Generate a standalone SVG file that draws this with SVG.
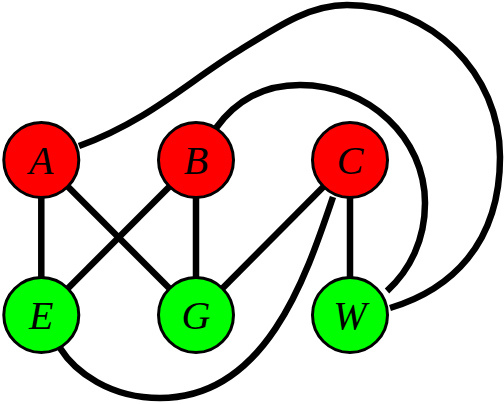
<svg xmlns="http://www.w3.org/2000/svg" width="504" height="404" viewBox="0 0 504 404">
<style>
.edge{fill:none;stroke:#000;stroke-width:6.5;stroke-linecap:butt}
.red{fill:#ff0000;stroke:#000;stroke-width:3}
.green{fill:#00ff00;stroke:#000;stroke-width:3}
.lbl{font-family:"Liberation Serif","DejaVu Serif",serif;font-style:italic;font-size:40px;text-anchor:middle;fill:#000}
</style>
<rect width="504" height="404" fill="#fff"/>
<g id="edges">
<line class="edge" x1="41.3" y1="160" x2="41.3" y2="315"/>
<line class="edge" x1="41.3" y1="160" x2="196" y2="315"/>
<line class="edge" x1="196" y1="160" x2="41.3" y2="315"/>
<line class="edge" x1="196" y1="160" x2="196" y2="315"/>
<line class="edge" x1="350" y1="160" x2="196" y2="315"/>
<line class="edge" x1="350" y1="160" x2="350" y2="315"/>
<path class="edge" d="M79,146 C150,120 190,80 240,50 C280,25 310,5 347,5 C431,5 500,73 500,157 C500,245 450,290 390,308"/>
<path class="edge" d="M216,128 C240,95 270,85 300,85 C369,85 425,138 425,203 C425,240 410,270 387,291"/>
<path class="edge" d="M333,197 C305,280 265,398 160,398 C110,398 75,372 60,348"/>
</g>
<g id="A"><circle class="red" cx="41.3" cy="160" r="37.5"/><text class="lbl" x="41.3" y="173.5">A</text></g>
<g id="B"><circle class="red" cx="196" cy="160" r="37.5"/><text class="lbl" x="196" y="173.5">B</text></g>
<g id="C"><circle class="red" cx="350" cy="160" r="37.5"/><text class="lbl" x="350" y="173.5">C</text></g>
<g id="E"><circle class="green" cx="41.3" cy="315" r="37.5"/><text class="lbl" x="41.3" y="328.5">E</text></g>
<g id="G"><circle class="green" cx="196" cy="315" r="37.5"/><text class="lbl" x="196" y="328.5">G</text></g>
<g id="W"><circle class="green" cx="350" cy="315" r="37.5"/><text class="lbl" x="350" y="328.5">W</text></g>
</svg>
